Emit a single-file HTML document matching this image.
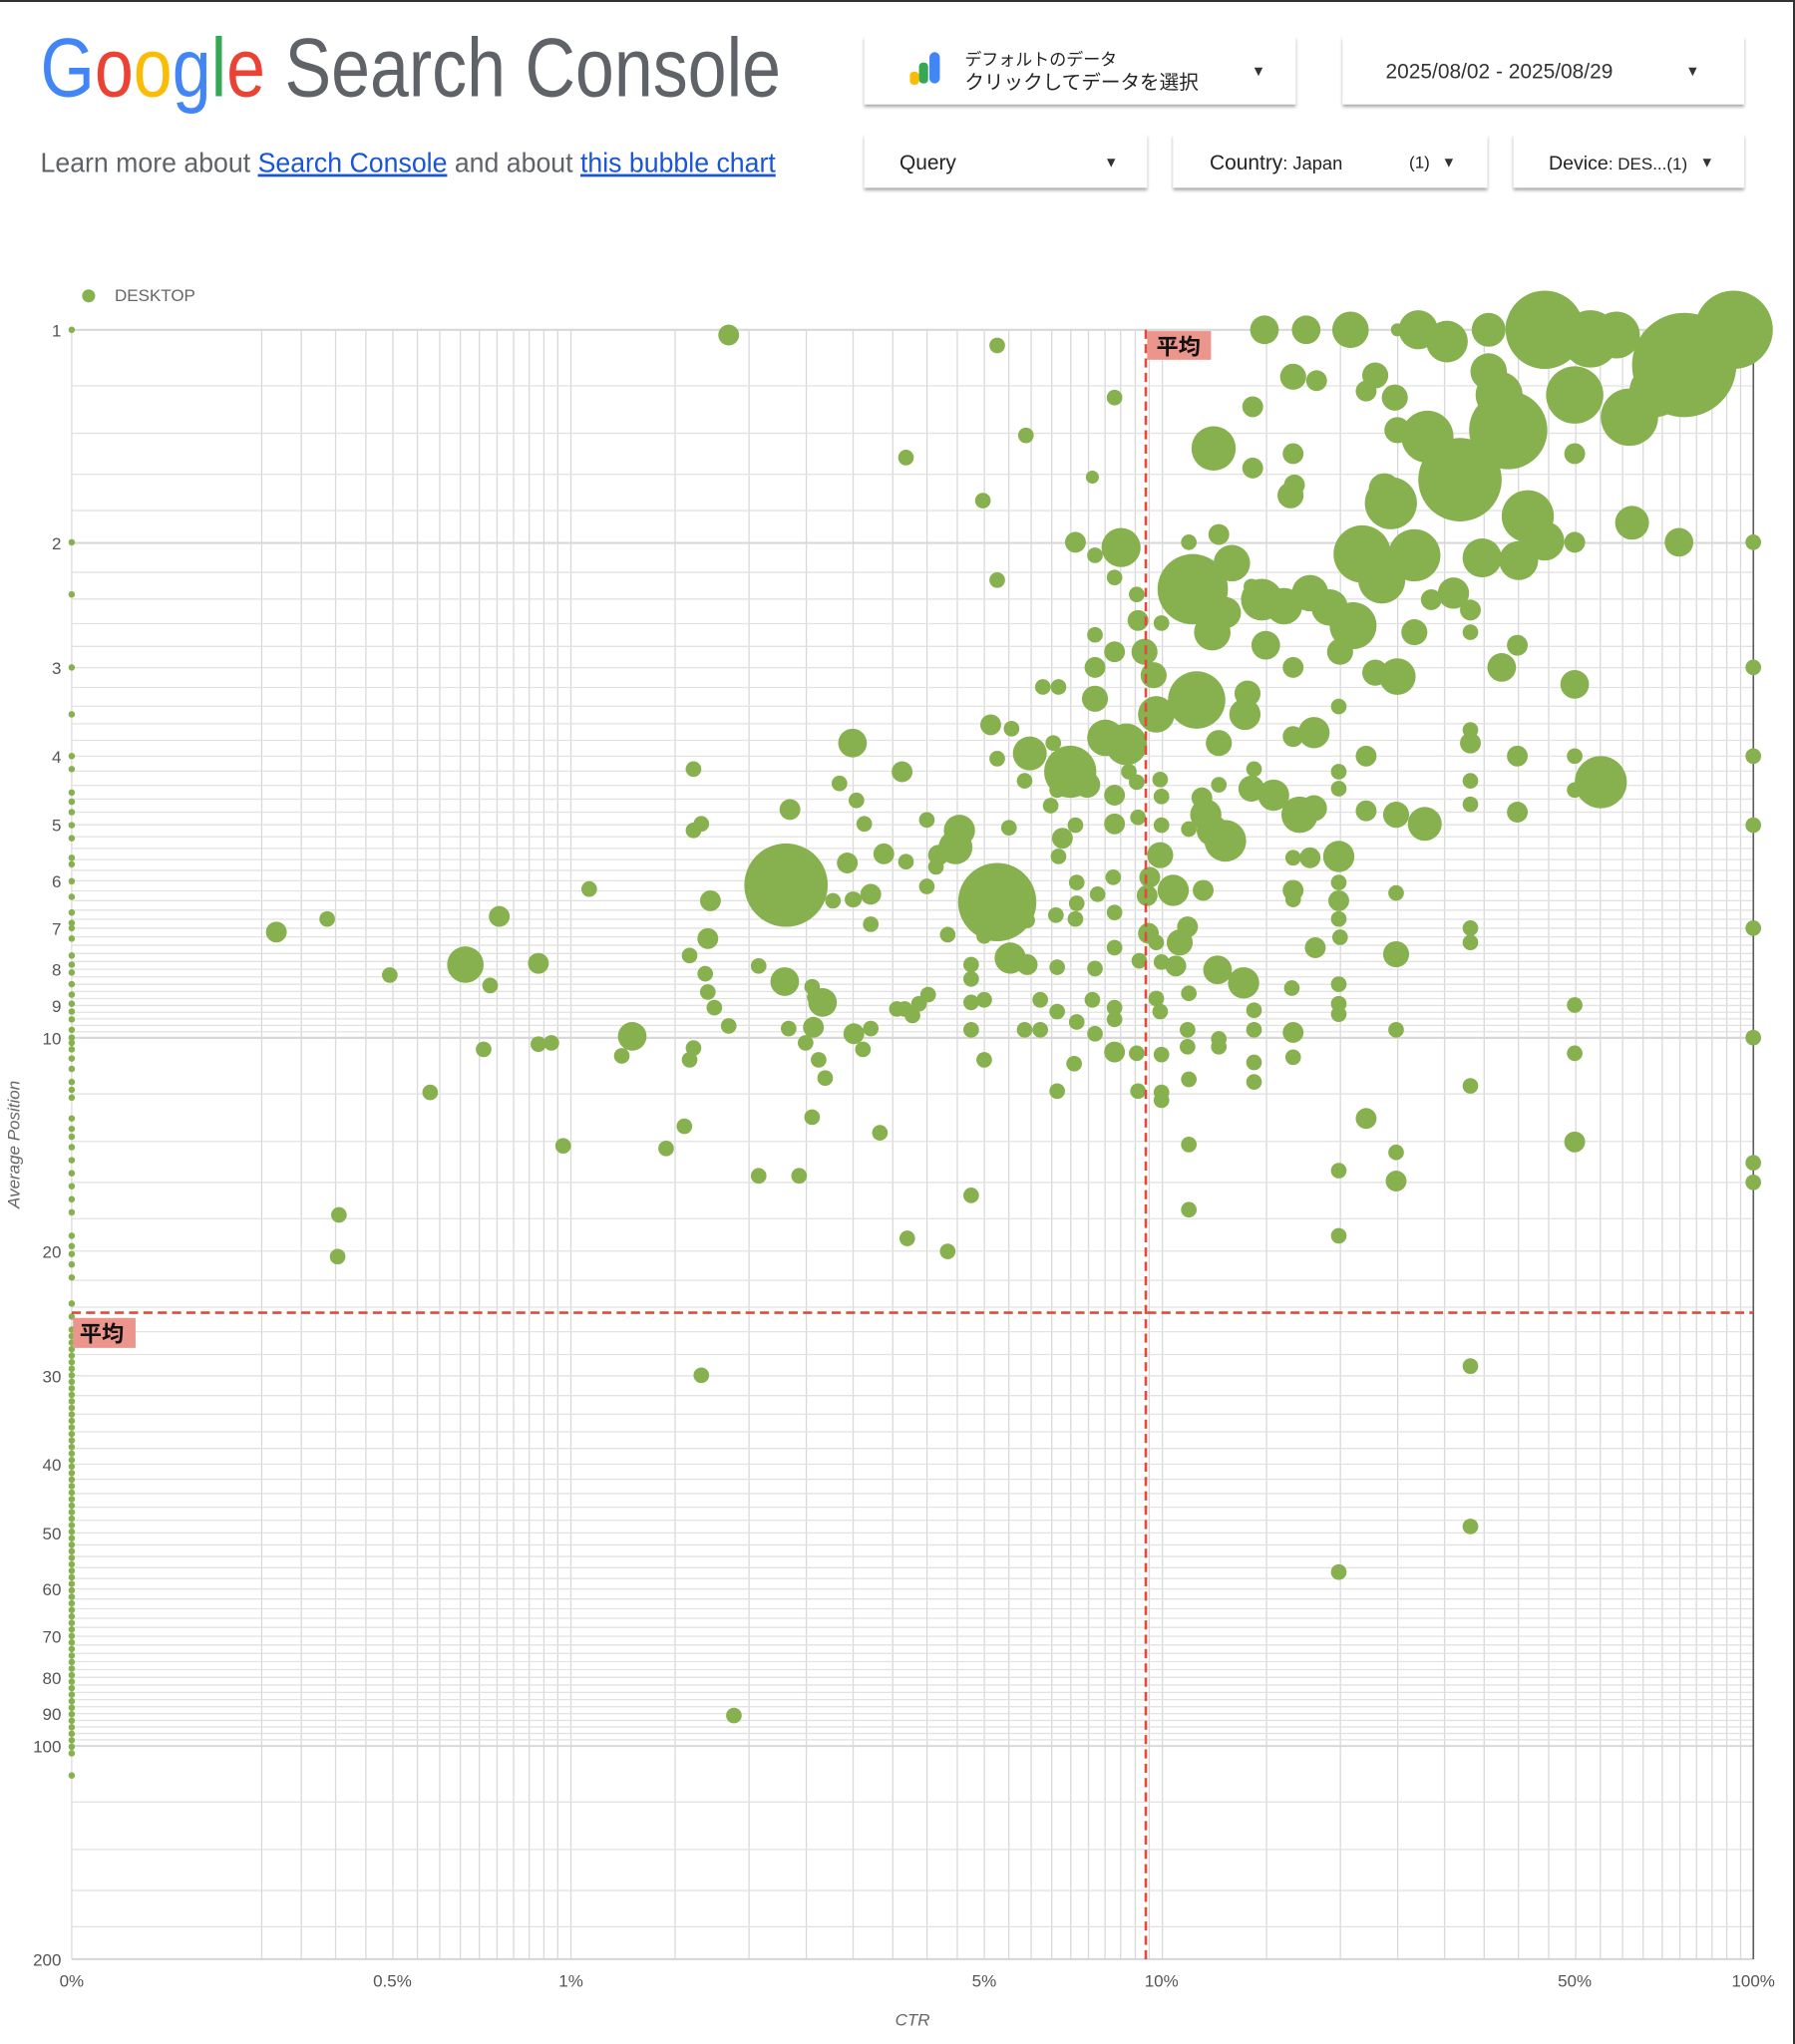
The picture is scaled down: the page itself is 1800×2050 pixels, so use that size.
<!DOCTYPE html>
<html><head><meta charset="utf-8"><style>
html,body{margin:0;padding:0;background:#fff;}
body{width:1800px;height:2050px;overflow:hidden;position:relative;}
#s{position:absolute;left:0;top:0;}
.bt{position:absolute;left:0;top:0;width:1800px;height:2px;background:#333;}
.br{position:absolute;right:0;top:0;width:2px;height:2050px;background:#333;}
text{font-family:"Liberation Sans","Noto Sans CJK JP",sans-serif;}
</style></head><body>
<svg id="s" width="1800" height="2050" viewBox="0 0 1377 1568" preserveAspectRatio="none" xmlns="http://www.w3.org/2000/svg">
<defs><filter id="sh" x="-5%" y="-10%" width="110%" height="130%"><feDropShadow dx="0" dy="2" stdDeviation="1.2" flood-color="#000" flood-opacity="0.35"/></filter></defs>
<text x="31" y="74" font-size="64" textLength="568" lengthAdjust="spacingAndGlyphs"><tspan fill="#4285f4">G</tspan><tspan fill="#ea4335">o</tspan><tspan fill="#fbbc05">o</tspan><tspan fill="#4285f4">g</tspan><tspan fill="#34a853">l</tspan><tspan fill="#ea4335">e</tspan><tspan fill="#5f6368"> Search Console</tspan></text>
<text x="31" y="132" font-size="21" fill="#5f6368" textLength="564" lengthAdjust="spacingAndGlyphs">Learn more about <tspan fill="#1a55d6" text-decoration="underline">Search Console</tspan> and about <tspan fill="#1a55d6" text-decoration="underline">this bubble chart</tspan></text>
<g fill="#fff" filter="url(#sh)">
<rect x="663" y="28" width="331" height="52"/><rect x="1030" y="28" width="308" height="52"/>
<rect x="663" y="103" width="217" height="41"/><rect x="900" y="103" width="241" height="41"/><rect x="1161" y="103" width="177" height="41"/>
</g>
<rect x="713" y="40" width="8" height="24" rx="4" fill="#4285f4"/><rect x="705" y="48" width="7" height="16" rx="3" fill="#34a853"/><rect x="698" y="55" width="7" height="10" rx="3" fill="#fbbc05"/>
<text x="740" y="50" font-size="13" fill="#222">デフォルトのデータ</text>
<text x="740" y="68" font-size="15" fill="#222">クリックしてデータを選択</text>
<g font-size="11" fill="#333"><text x="960" y="58">▼</text><text x="1293" y="58">▼</text><text x="847" y="128">▼</text><text x="1106" y="128">▼</text><text x="1304" y="128">▼</text></g>
<text x="1063" y="60" font-size="16" fill="#333">2025/08/02 - 2025/08/29</text>
<text x="690" y="130" font-size="16" fill="#222">Query</text>
<text x="928" y="130" font-size="16" fill="#222">Country<tspan font-size="14">: Japan</tspan></text>
<text x="1081" y="129" font-size="13" fill="#222">(1)</text>
<text x="1188" y="130" font-size="15" fill="#222">Device<tspan font-size="13">: DES...(1)</tspan></text>
<circle cx="68" cy="227" r="5" fill="#87b04f"/><text x="88" y="231" font-size="13" fill="#666">DESKTOP</text>
<g id="grid"></g>
<g id="bub" fill="#87b04f"></g>
<line x1="879" y1="253" x2="879" y2="1503" stroke="#e04b3c" stroke-width="2" stroke-dasharray="7,4"/>
<line x1="55" y1="1007" x2="1345" y2="1007" stroke="#e04b3c" stroke-width="2" stroke-dasharray="7,4"/>
<rect x="880" y="254" width="49" height="22" fill="#ec958c"/><text x="887" y="272" font-size="17" font-weight="bold" fill="#111">平均</text>
<rect x="56" y="1011" width="48" height="23" fill="#ec958c"/><text x="61" y="1029" font-size="17" font-weight="bold" fill="#111">平均</text>
<g id="lab" font-size="13" fill="#555"></g>
<text x="700" y="1554" font-size="13" fill="#666" font-style="italic" text-anchor="middle">CTR</text>
<text transform="translate(15,878) rotate(-90)" font-size="13" fill="#666" font-style="italic" text-anchor="middle">Average Position</text>
</svg>
<div class="bt"></div><div class="br"></div>
<script>
var NS="http://www.w3.org/2000/svg";
function el(p,t,a,txt){var e=document.createElementNS(NS,t);for(var k in a)e.setAttribute(k,a[k]);if(txt)e.textContent=txt;p.appendChild(e);return e;}
var g=document.getElementById('grid'),lab=document.getElementById('lab'),b=document.getElementById('bub');
function X(c){return 438+453.7*Math.log10(c);}function Y(p){return 253+543.2*Math.log10(p);}
var xs=[];for(var c=0.3;c<1;c+=0.05)xs.push(c);for(c=1;c<10;c+=0.5)xs.push(c);for(c=10;c<=100.01;c+=5)xs.push(c);
xs.forEach(function(c){var x=X(c);el(g,'line',{x1:x,x2:x,y1:253,y2:1503,stroke:'#d9d9d9','stroke-width':1});});
var ys=[];for(var p=1;p<10;p+=0.2)ys.push(p);for(p=10;p<100;p+=2)ys.push(p);for(p=100;p<=200.1;p+=20)ys.push(p);
ys.forEach(function(p){var y=Y(p);var major=[1,2,10,100,200].some(function(m){return Math.abs(m-p)<0.01});el(g,'line',{x1:55,x2:1345,y1:y,y2:y,stroke:major?'#d8d8d8':'#e2e2e2','stroke-width':major?1.6:1});});
el(g,'line',{x1:55,x2:55,y1:253,y2:1503,stroke:'#ddd','stroke-width':1});
el(g,'line',{x1:1345,x2:1345,y1:253,y2:1503,stroke:'#444','stroke-width':1});
[1,2,3,4,5,6,7,8,9,10,20,30,40,50,60,70,80,90,100,200].forEach(function(p){el(lab,'text',{x:47,y:Y(p)+5,'text-anchor':'end'},String(p));});
[[55,'0%'],[301,'0.5%'],[438,'1%'],[755,'5%'],[891,'10%'],[1208,'50%'],[1345,'100%']].forEach(function(a){el(lab,'text',{x:a[0],y:1524,'text-anchor':'middle'},a[1]);});
var B=[[559,257,8],[765,265,6],[970,253,11],[1002,253,11],[1036,253,14],[1072,253,5],[1088,253,15],[1110,262,16],[1142,253,13],[1168,250,13],[1185,253,30],[1220,260,22],[1240,257,18],[1292,280,40],[1330,253,30],[1270,300,20],[1250,320,22],[1208,303,22],[1150,303,18],[1142,285,14],[1157,330,30],[1120,368,32],[1095,335,20],[1072,330,10],[1070,305,10],[1055,288,10],[1048,300,8],[992,289,10],[1010,292,8],[961,312,8],[855,305,6],[787,334,6],[695,351,6],[931,344,17],[992,348,8],[961,359,8],[838,366,5],[754,384,6],[1067,386,20],[1062,375,12],[990,380,10],[993,372,8],[1208,348,8],[1172,396,20],[1252,401,13],[1288,416,11],[1208,416,8],[1345,416,6],[1185,415,15],[1165,430,15],[1137,428,15],[1085,426,20],[1045,425,22],[1060,445,18],[1115,455,12],[1098,460,8],[1128,468,8],[1128,485,6],[1164,495,8],[1152,512,11],[1208,525,11],[1085,485,10],[1072,519,14],[1055,516,10],[1038,480,18],[1028,500,10],[1005,455,14],[985,465,14],[1020,466,14],[968,460,16],[945,432,14],[935,410,8],[912,416,6],[915,452,27],[930,485,14],[940,470,12],[960,450,6],[971,495,11],[992,512,8],[860,420,15],[825,416,8],[840,426,6],[855,443,6],[872,456,6],[891,478,6],[873,476,8],[840,487,6],[855,500,8],[878,500,10],[885,518,10],[840,512,8],[800,527,6],[812,527,6],[765,445,6],[918,537,22],[957,532,10],[955,548,12],[887,548,14],[840,536,10],[848,566,14],[864,571,16],[821,592,20],[834,602,10],[790,578,13],[808,570,6],[760,556,8],[776,559,6],[765,582,6],[786,599,6],[935,570,10],[1027,542,6],[1008,562,12],[992,565,8],[1048,580,8],[1128,560,6],[1128,570,8],[1164,580,8],[1128,599,6],[1128,617,6],[1164,623,8],[1208,580,6],[1208,606,6],[1228,600,20],[1093,632,13],[1071,625,10],[1048,622,8],[1027,592,6],[1027,605,6],[997,625,14],[1008,620,10],[977,610,12],[960,605,10],[962,590,6],[935,602,6],[922,612,8],[925,625,12],[930,637,12],[940,645,16],[912,636,6],[890,598,6],[891,611,6],[872,600,6],[873,627,6],[855,632,8],[855,610,8],[866,592,6],[891,633,6],[811,606,6],[806,618,6],[825,633,6],[815,643,8],[812,657,6],[774,635,6],[736,637,12],[733,650,13],[720,656,8],[718,665,6],[711,629,6],[695,661,6],[678,655,8],[650,662,8],[654,690,6],[663,632,6],[657,614,6],[644,601,6],[654,570,11],[692,592,8],[606,621,8],[532,590,6],[538,632,6],[532,637,6],[603,679,32],[765,692,30],[778,703,6],[890,656,10],[882,673,8],[900,683,12],[880,687,8],[923,683,8],[854,673,6],[842,686,6],[826,677,6],[826,693,6],[1027,657,12],[1005,658,8],[992,658,6],[992,683,8],[992,690,6],[1027,677,6],[1027,691,8],[1027,705,6],[1071,685,6],[711,680,6],[668,686,8],[655,690,6],[639,691,6],[545,691,8],[452,682,6],[251,705,6],[212,715,8],[383,703,8],[668,709,6],[727,717,6],[755,718,6],[788,706,6],[810,702,6],[825,705,6],[855,700,6],[881,716,8],[911,711,8],[887,723,6],[905,723,10],[902,741,8],[891,738,6],[874,737,6],[855,727,6],[840,743,6],[811,742,6],[775,735,12],[788,740,8],[745,740,6],[745,751,6],[934,744,11],[954,754,12],[1009,727,8],[1028,719,6],[1071,732,10],[1128,712,6],[1128,723,6],[1345,712,6],[543,720,8],[529,733,6],[541,747,6],[543,761,6],[548,773,6],[559,787,6],[582,741,6],[602,753,11],[623,757,6],[625,765,6],[631,769,11],[624,788,8],[605,789,6],[618,800,6],[628,813,6],[633,827,6],[655,793,8],[668,789,6],[662,805,6],[357,740,14],[413,739,8],[376,756,6],[299,748,6],[712,763,6],[705,770,6],[700,779,6],[694,774,6],[688,774,6],[745,769,6],[755,767,6],[798,767,6],[811,776,6],[838,767,6],[855,773,6],[855,782,6],[887,766,6],[890,776,6],[912,762,6],[962,775,6],[991,758,6],[1027,755,6],[1027,770,6],[1027,778,6],[1208,771,6],[485,795,11],[413,801,6],[423,800,6],[371,805,6],[477,810,6],[532,804,6],[529,813,6],[745,790,6],[755,813,6],[786,790,6],[798,790,6],[826,784,6],[840,793,6],[855,807,8],[872,808,6],[891,809,6],[911,790,6],[911,803,6],[935,797,6],[935,803,6],[962,790,6],[962,815,6],[992,792,8],[992,811,6],[1071,790,6],[1345,796,6],[1208,808,6],[824,816,6],[811,837,6],[873,837,6],[891,838,6],[891,844,6],[912,828,6],[962,830,6],[1128,833,6],[330,838,6],[623,857,6],[675,869,6],[525,864,6],[432,879,6],[511,881,6],[582,902,6],[613,902,6],[745,917,6],[912,878,6],[912,928,6],[1048,858,8],[1071,884,6],[1071,906,8],[1027,898,6],[1208,876,8],[1345,892,6],[1345,907,6],[260,932,6],[259,964,6],[696,950,6],[727,960,6],[1027,948,6],[538,1055,6],[1128,1048,6],[1128,1171,6],[1027,1206,6],[563,1316,6],[1345,512,6],[1345,580,6],[1345,633,6]];
B.forEach(function(a){el(b,'circle',{cx:a[0],cy:a[1],r:a[2]});});
var L=[253,416,456,512,548,580,590,608,615,623,633,643,658,663,676,688,700,708,712,720,733,740,746,755,763,770,776,782,790,796,800,805,812,820,830,836,842,858,866,872,880,890,900,910,920,930,948,956,962,970,980,1000,1010,1362];
for(var y=1020;y<=1345;y+=5)L.push(y);
L.forEach(function(y){el(b,'circle',{cx:55,cy:y,r:2.5});});
</script>
</body></html>
